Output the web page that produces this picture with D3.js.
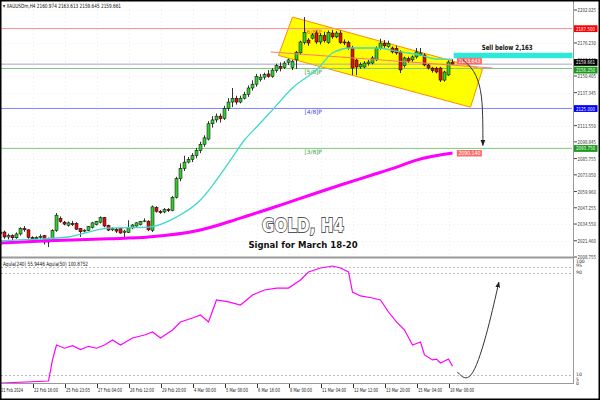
<!DOCTYPE html>
<html><head><meta charset="utf-8">
<script src="https://cdn.jsdelivr.net/npm/d3@7"></script>
<style>body{margin:0;background:#fff}svg{display:block}text{font-family:"DejaVu Sans",sans-serif}</style>
</head><body><svg id="c" width="600" height="400"></svg>
<script>
// ---- DATA ----
const opens=[2027.0,2028.3,2024.4,2025.5,2023.8,2026.8,2031.0,2030.0,2024.0,2023.0,2024.0,2025.5,2020.5,2023.0,2029.5,2039.0,2036.0,2033.5,2035.0,2035.0,2031.0,2029.0,2029.5,2032.0,2034.0,2036.0,2039.5,2033.5,2030.0,2030.5,2031.0,2028.0,2028.0,2031.5,2033.0,2034.0,2036.5,2036.8,2029.5,2047.5,2044.5,2044.0,2046.0,2045.0,2055.5,
2070,2078,2083,2085,2088,2092,2097,2101,2113,2116,2119,2117,2125,2130,2133,2130,2133,2136,2141,2144,2147.5,2149.5,2152,2150,2154.5,2158,2157,
2161,2157,2163,2168.5,2176.5,2178.5,2180,2184,2177,2182,2176.5,2184,2181,2184,2177,2176.5,2172.3,2162.9,2157.5,2157.4,2160,2160.5,2163,2172,2176,2173.5,2172.3,2172,2169.2,2158.5,2164,2163,2165.3,2166.8,2166.8,2159,2156.6,2156.5,2156.6,2147.2,2151.2,2160.974];
const highs=[2029.0,2029.5,2027.0,2026.5,2028.0,2032.0,2033.0,2030.5,2025.0,2025.0,2026.5,2026.0,2024.0,2030.5,2043.2,2040.5,2037.0,2036.5,2037.0,2036.0,2031.5,2030.5,2033.0,2036.0,2037.0,2040.5,2040.0,2034.0,2032.0,2031.5,2031.5,2030.0,2037.5,2034.5,2036.0,2037.0,2039.0,2037.5,2049.0,2048.5,2045.5,2047.0,2047.0,2056.5,2071.5,
2082,2088,2087,2090,2094,2099,2104,2115,2119,2121,2121,2127,2133,2141,2135,2135,2138,2143,2147,2152,2152,2153,2155,2156.5,2160,2161,2162,
2164,2163,2170,2178,2196.5,2180,2184,2186,2184,2185,2186,2186.5,2185.5,2186,2179,2178,2174,2164,2161,2162,2163,2166,2173.5,2179.5,2178.5,2178,2173.5,2174,2170.5,2165.5,2165.5,2166.5,2172.3,2172.3,2168,2160,2157.5,2157.5,2157.5,2154.5,2162.5,2163.613];
const lows=[2026.0,2023.0,2022.5,2022.0,2023.0,2025.5,2028.5,2023.0,2020.5,2022.0,2023.0,2018.5,2016.5,2022.0,2028.5,2035.5,2033.5,2032.5,2033.0,2030.0,2024.5,2028.0,2029.0,2031.0,2033.5,2035.0,2032.0,2029.0,2029.0,2027.5,2027.0,2024.5,2027.5,2030.5,2032.5,2033.5,2036.0,2029.0,2028.3,2043.5,2042.5,2043.0,2044.0,2044.5,2054.5,
2068,2076,2082,2083,2086,2090,2095,2100,2110,2114,2114,2116,2123,2126,2128,2129,2132,2134,2139,2142,2146,2147.5,2149,2149,2153,2154,2156,
2159,2155,2156,2167,2175,2174,2179,2175.5,2175,2176.5,2175.5,2179.5,2180,2175.5,2174.5,2171,2151.2,2151,2156,2156.5,2158.5,2159.5,2162,2171,2172.5,2172.5,2168,2167,2152.7,2157,2160.5,2161.5,2164,2166,2158,2155.5,2153,2152.5,2145.7,2146,2150.5,2159.645];
const closes=[2028.3,2024.4,2025.5,2023.8,2026.8,2031.0,2030.0,2024.0,2023.0,2024.0,2025.0,2020.5,2023.0,2029.5,2041.5,2036.5,2034.5,2035.5,2034.0,2030.5,2028.5,2029.8,2032.5,2035.5,2036.5,2039.5,2033.0,2029.8,2031.0,2029.0,2027.5,2029.0,2031.5,2033.8,2035.5,2036.5,2037.0,2030.0,2048.0,2044.5,2043.5,2046.0,2045.0,2055.5,2070.0,
2078,2083,2085,2088,2092,2097,2102,2113,2116,2119,2117,2125,2130,2133,2130,2133,2136,2141,2144,2150,2149.5,2151.5,2150,2155,2158.5,2156.5,2160.5,
2163,2162,2169,2177,2184.5,2176.2,2182.5,2177,2182,2178,2184.5,2181,2184,2176.5,2176.2,2172.3,2156.6,2157.4,2159.5,2160.5,2161.3,2164.5,2172.3,2176.2,2174,2176,2169.2,2168.4,2155.1,2164.5,2162,2165.3,2169.2,2168.4,2159,2156.6,2154.5,2153.5,2147.2,2153.5,2161.3,2159.661];

// moving averages: [candle index, price]
const maFast=[[0,2021.5],[8,2022.5],[17,2024.4],[27,2031.4],[37,2032.2],[44,2040.0],[50,2053.3],[54,2069],[57.5,2084.6],[61,2100.3],[64.5,2112],[67.5,2122.2],[73,2141],[79.5,2156.6],[83,2168.4],[87.5,2172.3],[94,2172.3],[100,2169.2],[105,2166.8],[109,2163.7],[113,2163.643]];
const maSlow=[[0,2019.7],[12,2021.5],[27,2023.0],[37,2024.4],[50,2029.9],[60,2039.2],[70,2049.4],[77.5,2057.3],[85,2065.1],[92.5,2072.5],[98.5,2078.5],[104,2084.6],[113,2090.140]];

// oscillator (Aqula 240) values: [candle index, value]
const osc=[[0,3.7],[12,5.3],[13,21.8],[14,33.5],[16,31],[18,33],[20,30],[22,32.5],[24,31],[26,33.5],[28,37.5],[30,33.5],[33,39],[36,41.4],[38,43.7],[40,39],[43,45.3],[45,51.6],[48,54.7],[50,57.1],[52,51.6],[54,68.8],[57,67.3],[60,64.9],[63,72.7],[66,76.7],[69,78.2],[72,78.2],[75,84.5],[77,90.8],[80,93.9],[83,95.5],[85,93.9],[87,90.8],[88,75.1],[90,72],[93,70.4],[95,68.8],[97,59.4],[99,51.6],[101,45.3],[103,33.5],[105,35.9],[106,25.7],[108,21.8],[109,22.5],[110,19.4],[112,22.5],[113,16.9]];

const priceTicks=[2202.025,2176.230,2163.140,2150.405,2137.345,2111.550,2098.845,2085.755,2073.050,2059.960,2047.255,2034.550,2021.460,2008.755];
const murrayLevels=[2187.500,2156.250,2125.000,2093.750];
const murrayNames=["[6/8]P","[5/8]P","[4/8]P","[3/8]P"];
const timeLabels=["21 Feb 2024","22 Feb 16:00","25 Feb 23:05","27 Feb 04:00","28 Feb 12:00","29 Feb 20:00","4 Mar 00:00","5 Mar 08:00","6 Mar 16:00","8 Mar 00:00","11 Mar 04:00","12 Mar 12:00","13 Mar 20:00","15 Mar 04:00","18 Mar 08:00"];
const timeLabelIdx=[0,8,16,24,32,40,48,56,64,72,80,88,96,104,112];
const oscLevels=[95,90,10];
const oscTickLabels=["100","95","90","10","5","0"];
const oscTickVals=[100,95,90,10,5,0];
// annotation anchors (candle index, price)
const channel=[[73,2196.5],[120.5,2155.6],[117.5,2126],[69.5,2166.5]];
const trendLine=[[67.5,2169.2],[123,2156.6]];
const sellZone={from:113.3,to:143,low:2164.3,high:2168.6,label:"Sell below 2,163"};
const arrowMain=[[115.5,2163.5],[118.5,2155],[120.2,2140],[120.6,2120],[120.6,2096]];
const arrowOsc=[[114.2,12.4],[117.5,2],[121.5,40],[124.6,82.9]];

// ---- SCALES ----
const svg=d3.select("#c");
const x=d3.scaleLinear().domain([0,143]).range([0.5,572.5]);
const y=d3.scaleLinear().domain([2008.755,2202.025]).range([257,10]);
const yo=d3.scaleLinear().domain([0,100]).range([387.75,260.25]);

svg.append("rect").attr("width",600).attr("height",400).attr("fill","#fff");
const defs=svg.append("defs");
defs.append("clipPath").attr("id","cm").append("rect").attr("x",1).attr("y",1).attr("width",572).attr("height",255);
defs.append("clipPath").attr("id","co").append("rect").attr("x",1).attr("y",258).attr("width",572).attr("height",125);
defs.append("marker").attr("id","ah").attr("viewBox","0 0 10 10").attr("refX",9).attr("refY",5)
  .attr("markerWidth",6).attr("markerHeight",6).attr("orient","auto")
  .append("path").attr("d","M0,1L10,5L0,9z").attr("fill","#222");

const main=svg.append("g").attr("clip-path","url(#cm)");
// faint grid
main.selectAll(".gy").data(priceTicks).join("line").attr("x1",1).attr("x2",572)
  .attr("y1",d=>Math.round(y(d))+0.5).attr("y2",d=>Math.round(y(d))+0.5)
  .attr("stroke","#ececec").attr("stroke-dasharray","1,3");
main.selectAll(".gx").data(timeLabelIdx).join("line").attr("y1",1).attr("y2",256)
  .attr("x1",d=>Math.round(x(d))+0.5).attr("x2",d=>Math.round(x(d))+0.5)
  .attr("stroke","#ececec").attr("stroke-dasharray","1,3");

// channel
main.append("path").attr("d",d3.line().x(d=>x(d[0])).y(d=>y(d[1]))(channel)+"Z")
  .attr("fill","#ffff00").attr("stroke","#ff8c00").attr("stroke-width",1);

// horizontal levels
const mColors=["#ff8f8f","#7fc97f","#8080ff","#7fc97f"];
const mText=["#ff5a00","#3a9a3a","#4040ff","#3a9a3a"];
main.selectAll(".ml").data(murrayLevels).join("line").attr("x1",1).attr("x2",572)
  .attr("y1",d=>y(d)).attr("y2",d=>y(d)).attr("stroke",(d,i)=>mColors[i]).attr("stroke-width",1);
main.selectAll(".mt").data(murrayLevels).join("text").attr("x",x(76)).attr("y",d=>y(d)+5.5)
  .attr("font-size",5.8).attr("fill",(d,i)=>mText[i]).text((d,i)=>murrayNames[i]);
// bid line
main.append("line").attr("x1",1).attr("x2",572).attr("y1",y(closes[closes.length-1])).attr("y2",y(closes[closes.length-1]))
  .attr("stroke","#a6a6c8").attr("stroke-width",1);

// sell zone
main.append("rect").attr("x",x(sellZone.from)).attr("width",x(sellZone.to)-x(sellZone.from))
  .attr("y",y(sellZone.high)).attr("height",y(sellZone.low)-y(sellZone.high)).attr("fill","#2ee8d8");
main.append("text").attr("x",x(120.3)).attr("y",y(sellZone.high)-2.5).attr("font-size",7.2).attr("font-weight","bold")
  .attr("fill","#111").attr("textLength",51).attr("lengthAdjust","spacingAndGlyphs").text(sellZone.label);

// candles
const idx=d3.range(closes.length);
main.selectAll(".wk").data(idx).join("line").attr("x1",i=>x(i)).attr("x2",i=>x(i))
  .attr("y1",i=>y(highs[i])).attr("y2",i=>y(lows[i])).attr("stroke","#000").attr("stroke-width",0.8);
main.selectAll(".bd").data(idx).join("rect").attr("x",i=>x(i)-1.5).attr("width",3)
  .attr("y",i=>y(Math.max(opens[i],closes[i]))).attr("height",i=>Math.max(0.8,Math.abs(y(opens[i])-y(closes[i]))))
  .attr("fill",i=>closes[i]>=opens[i]?"#33cc33":"#e01010").attr("stroke","#000").attr("stroke-width",0.5);

// trend line
main.append("line").attr("x1",x(trendLine[0][0])).attr("y1",y(trendLine[0][1])).attr("x2",x(trendLine[1][0])).attr("y2",y(trendLine[1][1]))
  .attr("stroke","#ff7a7a").attr("stroke-width",1);

// MAs
const lineP=d3.line().x(d=>x(d[0])).y(d=>y(d[1])).curve(d3.curveMonotoneX);
main.append("path").attr("d",lineP(maSlow)).attr("fill","none").attr("stroke","#ff00ff").attr("stroke-width",3);
main.append("path").attr("d",lineP(maFast)).attr("fill","none").attr("stroke","#3fd8cc").attr("stroke-width",1.3);

// MA labels
function tag(g,px,py,txt,bg){
  g.append("rect").attr("x",px).attr("y",py-3).attr("width",25).attr("height",6.5).attr("fill",bg);
  g.append("text").attr("x",px+12.5).attr("y",py+2.2).attr("text-anchor","middle").attr("font-size",5.8).attr("fill","#fff")
   .attr("textLength",22).attr("lengthAdjust","spacingAndGlyphs").text(txt);
}
tag(main,x(114.1),y(maFast[maFast.length-1][1])+1.8,maFast[maFast.length-1][1].toFixed(3),"#ff6b6b");
tag(main,x(114.1),y(maSlow[maSlow.length-1][1]),maSlow[maSlow.length-1][1].toFixed(3),"#ff6b6b");

// arrow main
main.append("path").attr("d",d3.line().x(d=>x(d[0])).y(d=>y(d[1])).curve(d3.curveBasis)(arrowMain))
  .attr("fill","none").attr("stroke","#333").attr("stroke-width",1).attr("marker-end","url(#ah)");

// title
svg.append("text").attr("x",303).attr("y",232).attr("text-anchor","middle").attr("font-family","Liberation Sans, Arial, sans-serif")
  .attr("font-size",19).attr("font-weight","bold").attr("fill","#fff").attr("stroke","#555").attr("stroke-width",1.8)
  .attr("paint-order","stroke").attr("textLength",82).attr("lengthAdjust","spacingAndGlyphs").text("GOLD, H4");
svg.append("text").attr("x",303).attr("y",248).attr("text-anchor","middle").attr("font-family","Liberation Sans, Arial, sans-serif")
  .attr("font-size",8.5).attr("font-weight","bold").attr("fill","#111").text("Signal for March 18-20");

// header
svg.append("text").attr("x",3).attr("y",8).attr("font-size",5.8).attr("fill","#111")
  .attr("textLength",118).attr("lengthAdjust","spacingAndGlyphs")
  .text("\u25BE XAUUSDm,H4  "+[opens,highs,lows,closes].map(a=>a[a.length-1].toFixed(3)).join(" "));

// ---- oscillator ----
const og=svg.append("g").attr("clip-path","url(#co)");
og.selectAll(".ol").data(oscLevels).join("line").attr("x1",1).attr("x2",572).attr("y1",d=>Math.round(yo(d))+0.5).attr("y2",d=>Math.round(yo(d))+0.5)
  .attr("stroke","#bbb").attr("stroke-dasharray","2,2");
og.append("path").attr("d",d3.line().x(d=>x(d[0])).y(d=>yo(d[1]))(osc)).attr("fill","none").attr("stroke","#ff00ff").attr("stroke-width",1.2);
og.append("path").attr("d",d3.line().x(d=>x(d[0])).y(d=>yo(d[1])).curve(d3.curveBasis)(arrowOsc))
  .attr("fill","none").attr("stroke","#333").attr("stroke-width",1).attr("marker-end","url(#ah)");
svg.append("text").attr("x",3).attr("y",266).attr("font-size",5.8).attr("fill","#111")
  .attr("textLength",85).attr("lengthAdjust","spacingAndGlyphs")
  .text("Aqula(240) 55.9446  Aqula(50) 100.8752");

// panel borders
svg.append("line").attr("x1",0).attr("x2",574).attr("y1",257.5).attr("y2",257.5).attr("stroke","#999").attr("stroke-width",2);
svg.append("line").attr("x1",0).attr("x2",574).attr("y1",383.5).attr("y2",383.5).attr("stroke","#999").attr("stroke-width",1);
svg.append("line").attr("x1",573.5).attr("x2",573.5).attr("y1",0).attr("y2",384).attr("stroke","#999").attr("stroke-width",1);

// price axis
const ax=svg.append("g");
ax.selectAll(".pt").data(priceTicks).join("line").attr("x1",574).attr("x2",577).attr("y1",d=>y(d)).attr("y2",d=>y(d)).attr("stroke","#444");
ax.selectAll(".pl").data(priceTicks).join("text").attr("x",577.5).attr("y",d=>y(d)+2).attr("font-size",5.4).attr("fill","#333")
  .attr("textLength",18.5).attr("lengthAdjust","spacingAndGlyphs").text(d=>d.toFixed(3));
function axTag(py,txt,bg){
  ax.append("rect").attr("x",574).attr("y",py-3.3).attr("width",23.5).attr("height",6.8).attr("fill",bg);
  ax.append("text").attr("x",576).attr("y",py+2.1).attr("font-size",5.4).attr("fill","#fff")
   .attr("textLength",19).attr("lengthAdjust","spacingAndGlyphs").text(txt);
}
axTag(y(murrayLevels[0]),murrayLevels[0].toFixed(3),"#ff0000");
axTag(y(murrayLevels[2]),murrayLevels[2].toFixed(3),"#0000ff");
axTag(y(murrayLevels[3]),murrayLevels[3].toFixed(3),"#1a9a1a");
axTag(y(murrayLevels[1])+1.5,murrayLevels[1].toFixed(3),"#1a9a1a");
axTag(y(closes[closes.length-1])-1.8,closes[closes.length-1].toFixed(3),"#000");

// osc axis
const oscLabY=[262.5,266.5,274,376,380.5,384.5];
ax.selectAll(".ot").data(oscTickVals).join("text").attr("x",576).attr("y",(d,i)=>oscLabY[i]).attr("font-size",4.6).attr("fill","#333").text((d,i)=>oscTickLabels[i]);

// time axis
const tx=svg.append("g");
tx.selectAll(".tt").data(timeLabelIdx.slice(1)).join("line").attr("x1",d=>Math.round(x(d))+0.5).attr("x2",d=>Math.round(x(d))+0.5)
  .attr("y1",384).attr("y2",388).attr("stroke","#333");
tx.selectAll(".tl").data(timeLabelIdx).join("text").attr("x",(d,i)=>i===0?1:x(d)+1.5).attr("y",392).attr("font-size",5.6).attr("fill","#222")
  .attr("textLength",(d,i)=>timeLabels[i].length*2.0).attr("lengthAdjust","spacingAndGlyphs")
  .text((d,i)=>timeLabels[i]);

// frame
svg.append("rect").attr("x",0.75).attr("y",0.75).attr("width",598.5).attr("height",398.5).attr("fill","none").attr("stroke","#000").attr("stroke-width",1.5);
</script></body></html>
